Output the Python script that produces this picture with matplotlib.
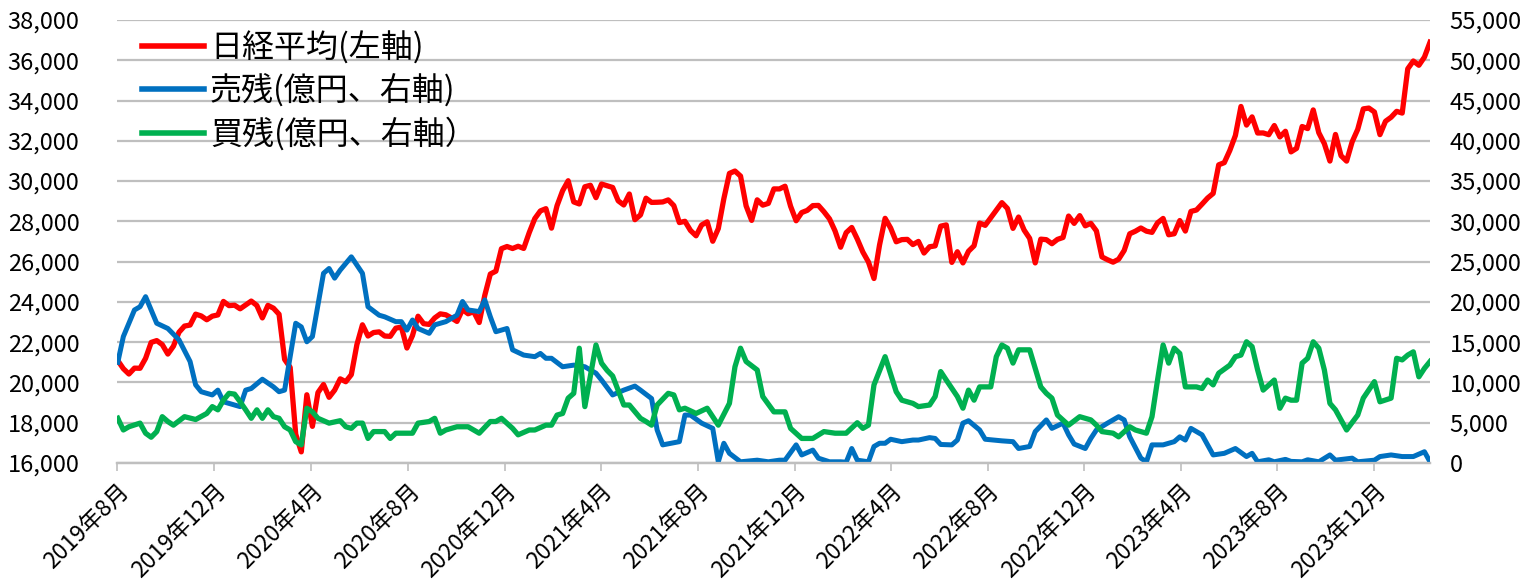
import matplotlib
matplotlib.use("Agg")
import matplotlib.pyplot as plt
import matplotlib.ticker as mticker
from matplotlib.lines import Line2D
import pandas as pd

plt.rcParams['font.family'] = ['Noto Sans CJK JP', 'DejaVu Sans']

# --- data ---
# weekly Fridays 2019-08-02 .. 2024-02-09
week_start = "2019-08-02"
week_end = "2024-02-09"

nikkei = [
    21087, 20685, 20419, 20711, 20704, 21199, 21988, 22079, 21879, 21410,
    21799, 22492, 22800, 22851, 23391, 23303, 23113, 23293, 23354, 24023,
    23816, 23837, 23657, 23850, 24041, 23827, 23205, 23828, 23688, 23387,
    21143, 20750, 17431, 16553, 19389, 17820, 19499, 19897, 19262, 19619,
    20179, 20037, 20388, 21878, 22864, 22305, 22479, 22512, 22306, 22291,
    22696, 22751, 21710, 22329, 23289, 22920, 22882, 23205, 23406, 23360,
    23205, 23030, 23620, 23411, 23517, 22977, 24325, 25385, 25527, 26644,
    26751, 26652, 26763, 26656, 27444, 28139, 28519, 28631, 27663, 28779,
    29520, 30018, 28966, 28864, 29718, 29792, 29177, 29854, 29768, 29683,
    29021, 28813, 29358, 28084, 28318, 29149, 28942, 28949, 28964, 29066,
    28783, 27940, 28003, 27548, 27284, 27820, 27977, 27013, 27641, 29128,
    30382, 30500, 30249, 28771, 28049, 29069, 28805, 28893, 29612, 29610,
    29746, 28752, 28030, 28438, 28546, 28782, 28792, 28479, 28124, 27522,
    26717, 27440, 27696, 27122, 26477, 25985, 25163, 26827, 28150, 27666,
    26986, 27093, 27105, 26848, 27004, 26428, 26739, 26782, 27762, 27824,
    25963, 26491, 25936, 26517, 26788, 27915, 27802, 28176, 28547, 28930,
    28641, 27651, 28215, 27568, 27154, 25937, 27116, 27091, 26891, 27105,
    27200, 28264, 27900, 28284, 27778, 27901, 27527, 26235, 26095, 25974,
    26120, 26554, 27383, 27509, 27671, 27513, 27454, 27927, 28144, 27334,
    27385, 28041, 27518, 28493, 28564, 28856, 29158, 29388, 30808, 30916,
    31524, 32265, 33706, 32781, 33189, 32388, 32391, 32304, 32759, 32193,
    32474, 31451, 31625, 32711, 32607, 33534, 32402, 31858, 30995, 32316,
    31260, 30992, 31950, 32569, 33586, 33626, 33432, 32308, 32971, 33170,
    33464, 33377, 35577, 35964, 35751, 36158, 36897,
]

sell_dates = [
    "2019-08-02", "2019-08-09", "2019-08-23", "2019-08-30", "2019-09-06", "2019-09-20",
    "2019-10-04", "2019-10-18", "2019-11-01", "2019-11-08", "2019-11-15", "2019-11-29",
    "2019-12-06", "2019-12-13", "2019-12-27", "2020-01-03", "2020-01-10", "2020-01-17",
    "2020-01-31", "2020-02-14", "2020-02-21", "2020-02-28", "2020-03-13", "2020-03-20",
    "2020-03-27", "2020-04-03", "2020-04-17", "2020-04-24", "2020-05-01", "2020-05-08",
    "2020-05-22", "2020-06-05", "2020-06-12", "2020-06-26", "2020-07-03", "2020-07-17",
    "2020-07-24", "2020-07-31", "2020-08-07", "2020-08-14", "2020-08-28", "2020-09-04",
    "2020-09-18", "2020-10-02", "2020-10-09", "2020-10-16", "2020-10-30", "2020-11-06",
    "2020-11-13", "2020-11-20", "2020-12-04", "2020-12-11", "2020-12-25", "2021-01-08",
    "2021-01-15", "2021-01-22", "2021-01-29", "2021-02-12", "2021-02-26", "2021-03-12",
    "2021-03-26", "2021-04-02", "2021-04-16", "2021-04-30", "2021-05-14", "2021-05-21",
    "2021-06-04", "2021-06-11", "2021-06-18", "2021-07-09", "2021-07-16", "2021-07-23",
    "2021-08-06", "2021-08-20", "2021-08-27", "2021-09-03", "2021-09-10", "2021-09-24",
    "2021-10-15", "2021-10-29", "2021-11-12", "2021-11-19", "2021-12-03", "2021-12-10",
    "2021-12-24", "2021-12-31", "2022-01-14", "2022-01-28", "2022-02-04", "2022-02-11",
    "2022-02-18", "2022-03-04", "2022-03-11", "2022-03-18", "2022-03-25", "2022-04-01",
    "2022-04-15", "2022-04-29", "2022-05-06", "2022-05-20", "2022-05-27", "2022-06-03",
    "2022-06-17", "2022-06-24", "2022-07-01", "2022-07-08", "2022-07-22", "2022-07-29",
    "2022-08-19", "2022-09-02", "2022-09-09", "2022-09-23", "2022-09-30", "2022-10-14",
    "2022-10-21", "2022-11-04", "2022-11-11", "2022-11-18", "2022-12-02", "2022-12-09",
    "2022-12-16", "2022-12-30", "2023-01-13", "2023-01-20", "2023-01-27", "2023-02-10",
    "2023-02-17", "2023-02-24", "2023-03-10", "2023-03-24", "2023-03-31", "2023-04-07",
    "2023-04-14", "2023-04-28", "2023-05-12", "2023-05-26", "2023-06-09", "2023-06-23",
    "2023-06-30", "2023-07-07", "2023-07-21", "2023-07-28", "2023-08-11", "2023-08-18",
    "2023-09-01", "2023-09-08", "2023-09-22", "2023-10-06", "2023-10-13", "2023-11-03",
    "2023-11-10", "2023-12-01", "2023-12-08", "2023-12-22", "2024-01-05", "2024-01-19",
    "2024-02-02", "2024-02-09",
]
sell_balance = [
    12500, 15700, 19000, 19400, 20650, 17350,
    16700, 15300, 12600, 9700, 8850, 8450,
    9050, 7600, 7200, 7000, 9050, 9250,
    10400, 9450, 8850, 9050, 17350, 16900,
    15050, 15700, 23550, 24150, 22950, 23950,
    25600, 23550, 19400, 18350, 18150, 17550,
    17550, 16500, 17750, 16700, 16100, 17150,
    17550, 18350, 20050, 19000, 18800, 20250,
    18150, 16300, 16700, 14050, 13400, 13200,
    13600, 13000, 13000, 11950, 12150, 11950,
    11150, 10300, 8450, 9050, 9550, 9050,
    8000, 4100, 2250, 2650, 5950, 5950,
    4950, 4300, 150, 2450, 1200, 150,
    350, 150, 350, 350, 2250, 1000,
    1600, 600, 150, 150, 100, 1800,
    350, 150, 2050, 2450, 2450, 2950,
    2650, 2850, 2850, 3150, 3050, 2300,
    2250, 2850, 4950, 5250, 4100, 2950,
    2750, 2650, 1800, 2050, 3900, 5350,
    4300, 4950, 3500, 2350, 1800, 3050,
    4100, 4950, 5750, 5350, 3250, 600,
    150, 2250, 2250, 2650, 3250, 2850,
    4300, 3500, 1000, 1200, 1800, 800,
    1200, 150, 400, 150, 450, 200,
    150, 400, 150, 1000, 350, 600,
    150, 350, 800, 1000, 800, 800,
    1400, 150,
]

buy_dates = [
    "2019-08-02", "2019-08-09", "2019-08-16", "2019-08-30", "2019-09-06", "2019-09-13",
    "2019-09-20", "2019-09-27", "2019-10-04", "2019-10-11", "2019-10-25", "2019-11-08",
    "2019-11-22", "2019-11-29", "2019-12-06", "2019-12-13", "2019-12-20", "2019-12-27",
    "2020-01-03", "2020-01-10", "2020-01-17", "2020-01-24", "2020-01-31", "2020-02-07",
    "2020-02-14", "2020-02-21", "2020-02-28", "2020-03-06", "2020-03-13", "2020-03-20",
    "2020-03-27", "2020-04-03", "2020-04-10", "2020-04-24", "2020-05-08", "2020-05-15",
    "2020-05-22", "2020-05-29", "2020-06-05", "2020-06-12", "2020-06-19", "2020-07-03",
    "2020-07-10", "2020-07-17", "2020-08-07", "2020-08-14", "2020-08-28", "2020-09-04",
    "2020-09-11", "2020-09-18", "2020-10-02", "2020-10-16", "2020-10-23", "2020-10-30",
    "2020-11-13", "2020-11-20", "2020-11-27", "2020-12-11", "2020-12-18", "2021-01-01",
    "2021-01-08", "2021-01-22", "2021-01-29", "2021-02-05", "2021-02-12", "2021-02-19",
    "2021-02-26", "2021-03-05", "2021-03-12", "2021-03-26", "2021-04-02", "2021-04-09",
    "2021-04-16", "2021-04-30", "2021-05-07", "2021-05-21", "2021-05-28", "2021-06-04",
    "2021-06-11", "2021-06-25", "2021-07-02", "2021-07-09", "2021-07-16", "2021-07-30",
    "2021-08-13", "2021-08-27", "2021-09-10", "2021-09-17", "2021-09-24", "2021-10-01",
    "2021-10-15", "2021-10-22", "2021-11-05", "2021-11-19", "2021-11-26", "2021-12-10",
    "2021-12-24", "2022-01-07", "2022-01-21", "2022-02-04", "2022-02-18", "2022-02-25",
    "2022-03-04", "2022-03-11", "2022-03-25", "2022-04-08", "2022-04-15", "2022-04-29",
    "2022-05-06", "2022-05-20", "2022-05-27", "2022-06-03", "2022-06-10", "2022-06-24",
    "2022-07-01", "2022-07-08", "2022-07-15", "2022-07-22", "2022-08-05", "2022-08-12",
    "2022-08-19", "2022-08-26", "2022-09-02", "2022-09-09", "2022-09-23", "2022-10-07",
    "2022-10-14", "2022-10-21", "2022-10-28", "2022-11-11", "2022-11-25", "2022-12-09",
    "2022-12-16", "2022-12-23", "2023-01-06", "2023-01-13", "2023-01-27", "2023-02-03",
    "2023-02-17", "2023-02-24", "2023-03-03", "2023-03-10", "2023-03-17", "2023-03-24",
    "2023-03-31", "2023-04-07", "2023-04-21", "2023-04-28", "2023-05-05", "2023-05-12",
    "2023-05-19", "2023-06-02", "2023-06-09", "2023-06-16", "2023-06-23", "2023-06-30",
    "2023-07-07", "2023-07-14", "2023-07-28", "2023-08-04", "2023-08-11", "2023-08-18",
    "2023-08-25", "2023-09-01", "2023-09-08", "2023-09-15", "2023-09-22", "2023-09-29",
    "2023-10-06", "2023-10-13", "2023-10-27", "2023-11-10", "2023-11-17", "2023-12-01",
    "2023-12-08", "2023-12-22", "2023-12-29", "2024-01-05", "2024-01-12", "2024-01-19",
    "2024-01-26", "2024-02-02", "2024-02-09",
]
buy_balance = [
    5550, 4100, 4500, 4950, 3700, 3200,
    3900, 5750, 5150, 4700, 5750, 5400,
    6150, 7000, 6600, 7800, 8650, 8550,
    7600, 6600, 5550, 6600, 5550, 6600,
    5750, 5550, 4500, 4100, 2650, 2250,
    6800, 6350, 5550, 4950, 5250, 4500,
    4300, 4950, 4950, 3050, 3900, 3900,
    3050, 3700, 3700, 4950, 5150, 5550,
    3700, 4100, 4500, 4500, 4100, 3700,
    5150, 5150, 5550, 4300, 3500, 4100,
    4100, 4700, 4700, 5950, 6150, 8050,
    8650, 14250, 7000, 14650, 12400, 11500,
    10800, 7200, 7200, 5550, 5150, 4700,
    7200, 8650, 8450, 6600, 6800, 6150,
    6800, 4700, 7400, 11950, 14250, 12600,
    11550, 8250, 6350, 6350, 4300, 3050,
    3050, 3900, 3700, 3700, 5000, 4300,
    4700, 9700, 13200, 8850, 7800, 7400,
    7000, 7200, 8250, 11350, 10300, 8250,
    6800, 9050, 7800, 9450, 9450, 13200,
    14650, 14250, 12400, 14050, 14050, 9450,
    8650, 8050, 5950, 4700, 5750, 5350,
    4700, 3900, 3700, 3250, 4500, 4100,
    3700, 5750, 10300, 14650, 12400, 14250,
    13600, 9450, 9450, 9250, 10300, 9700,
    11150, 12150, 13200, 13400, 15050, 14450,
    11550, 9050, 10300, 6800, 8050, 7800,
    7800, 12400, 13000, 15050, 14250, 11550,
    7400, 6600, 4100, 5950, 8050, 10100,
    7600, 8050, 13000, 12800, 13400, 13800,
    10700, 11750, 12600,
]

labels = ["日経平均(左軸)", "売残(億円、右軸)", "買残(億円、右軸）"]
colors = ["#FF0000", "#0070C0", "#00B050"]

# --- plot ---
weeks = pd.date_range(week_start, week_end, freq="7D")
sell_x = pd.to_datetime(sell_dates)
buy_x = pd.to_datetime(buy_dates)

fig = plt.figure(figsize=(15.33, 5.84), dpi=100)
ax = fig.add_axes([117 / 1533, 1 - 463 / 584, 1313 / 1533, 443 / 584])
ax2 = ax.twinx()

ax.plot(weeks, nikkei, color=colors[0], lw=3.8, solid_joinstyle="round")
ax2.plot(sell_x, sell_balance, color=colors[1], lw=3.6, solid_joinstyle="round")
ax2.plot(buy_x, buy_balance, color=colors[2], lw=3.8, solid_joinstyle="round")

ax.set_xlim(pd.Timestamp("2019-08-01"), pd.Timestamp(week_end))
ax.set_ylim(16000, 38000)
ax2.set_ylim(0, 55000)
ax.yaxis.set_major_locator(mticker.MultipleLocator(2000))
ax2.yaxis.set_major_locator(mticker.MultipleLocator(5000))
fmt = mticker.FuncFormatter(lambda v, p: f"{v:,.0f}")
ax.yaxis.set_major_formatter(fmt)
ax2.yaxis.set_major_formatter(fmt)

xt = pd.date_range("2019-08-01", "2023-12-01", freq="4MS")
ax.set_xticks(xt)
ax.set_xticklabels([f"{d.year}年{d.month}月" for d in xt], rotation=45,
                   ha="right", rotation_mode="anchor", fontsize=16.5)

ax.grid(axis="y", color="#BFBFBF", lw=1.6)
ax.set_axisbelow(True)
for a in (ax, ax2):
    for s in ("left", "right", "top"):
        a.spines[s].set_visible(False)
    a.spines["bottom"].set_color("#BFBFBF")
    a.spines["bottom"].set_linewidth(1.6)
ax.tick_params(axis="x", length=6, width=1.2, color="#BFBFBF", pad=6)
ax.tick_params(axis="y", length=0, labelsize=17, pad=27)
ax2.tick_params(axis="y", length=0, labelsize=17, pad=14)

handles = [Line2D([], [], color=c, lw=4) for c in colors]
ax2.legend(handles, labels, loc="upper left", bbox_to_anchor=(0.019, 0.975),
           frameon=False, fontsize=23, handlelength=1.95, handletextpad=0.18,
           labelspacing=0.31, borderpad=0, borderaxespad=0)

fig.savefig("out.png", dpi=100)
